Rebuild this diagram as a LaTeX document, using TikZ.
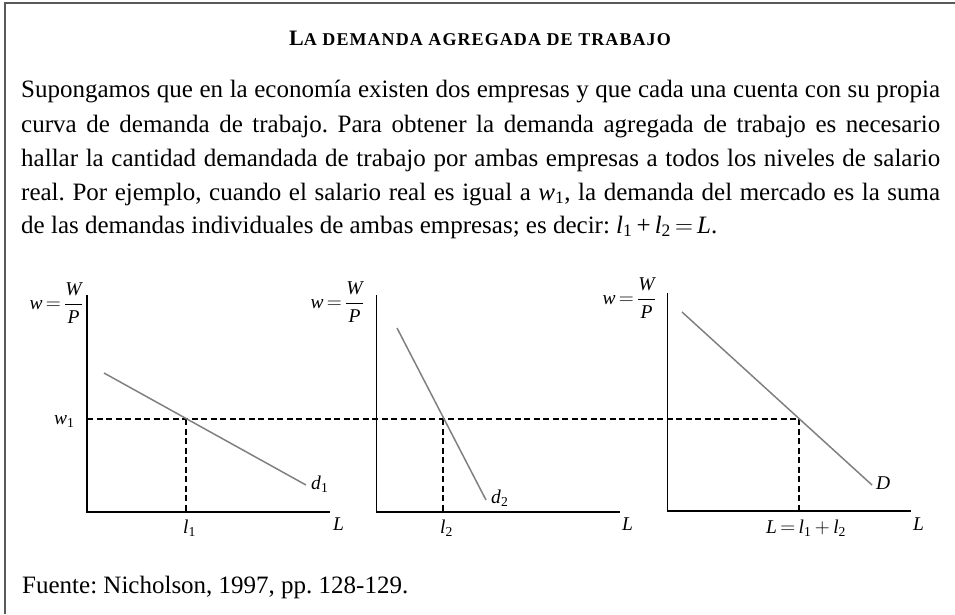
\documentclass[tikz,border=0pt]{standalone}
\usepackage{fontspec}
\setmainfont{Liberation Serif}
\newfontfamily\titlefont[LetterSpace=6]{Liberation Serif}
\newcommand\wlabel{\textit{w}\,$=$\,$\displaystyle\frac{\mbox{\itshape W}}{\mbox{\itshape P}}$}
\newcommand\sub[2]{\textit{#1}\textsubscript{#2}}
\frenchspacing
\tikzset{
  axisline/.style={line width=1.3pt, black},
  curveline/.style={line width=1.5pt, black!50},
  guide/.style={line width=1.1pt, black, dash pattern=on 6pt off 3.5pt},
  lab/.style={inner sep=0pt, font=\fontsize{19.5}{22}\selectfont},
  body/.style={inner sep=0pt, anchor=base west, font=\fontsize{25}{30}\selectfont},
  frameline/.style={line width=2pt, black!65}
}
\begin{document}
\begin{tikzpicture}[x=1pt,y=-1pt]
\useasboundingbox (0,0) rectangle (955,614);
% frame (top and left only)
\coordinate (fbl) at (5,614); \coordinate (ftl) at (5,3); \coordinate (ftr) at (955,3);
\draw[frameline] (fbl) -- (ftl) -- (ftr);
% title
\node[inner sep=0pt, anchor=base] (title) at (480,45)
  {\titlefont\bfseries{\fontsize{22}{24}\selectfont L}{\fontsize{18}{20}\selectfont A DEMANDA AGREGADA DE TRABAJO}};
% body
\node[body] (t1) at (21,97) {\makebox[919pt][s]{Supongamos que en la economía existen dos empresas y que cada una cuenta con su propia}};
\node[body] (t2) at (21,132) {\makebox[919pt][s]{curva de demanda de trabajo. Para obtener la demanda agregada de trabajo es necesario}};
\node[body] (t3) at (21,166) {\makebox[919pt][s]{hallar la cantidad demandada de trabajo por ambas empresas a todos los niveles de salario}};
\node[body] (t4) at (21,200) {\makebox[919pt][s]{real. Por ejemplo, cuando el salario real es igual a \sub{w}{1}, la demanda del mercado es la suma}};
\node[body] (t5) at (21,233) {de las demandas individuales de ambas empresas; es decir: \sub{l}{1}\,+\,\sub{l}{2}$\,=\,$\textit{L}.};
% footer
\node[body] (src) at (22,593) {Fuente: Nicholson, 1997, pp. 128-129.};
% graph 1
\coordinate (y1top) at (87,295); \coordinate (o1) at (87,512); \coordinate (x1end) at (330,512);
\draw[axisline] (y1top) -- (o1) -- (x1end);
% graph 2
\coordinate (y2top) at (376.5,295); \coordinate (o2) at (376.5,512); \coordinate (x2end) at (620,512);
\draw[axisline] (y2top) -- (o2) -- (x2end);
% graph 3
\coordinate (y3top) at (667.5,293); \coordinate (o3) at (667.5,511); \coordinate (x3end) at (911,511);
\draw[axisline] (y3top) -- (o3) -- (x3end);
% guides
\coordinate (hstart) at (87,419);
\coordinate (p1) at (186,419); \coordinate (b1) at (186,512);
\coordinate (p2) at (443,419); \coordinate (b2) at (443,512);
\coordinate (p3) at (799,419); \coordinate (b3) at (799,511);
\draw[guide] (hstart) -- (p3);
\draw[guide] (p1) -- (b1);
\draw[guide] (p2) -- (b2);
\draw[guide] (p3) -- (b3);
% demand curves
\coordinate (d1a) at (104,373); \coordinate (d1b) at (306,485);
\coordinate (d2a) at (397,328); \coordinate (d2b) at (486,500);
\coordinate (d3a) at (682,312); \coordinate (d3b) at (872,485);
\draw[curveline] (d1a) -- (d1b);
\draw[curveline] (d2a) -- (d2b);
\draw[curveline] (d3a) -- (d3b);
% labels
\node[lab, anchor=east] (wl1) at (83,303) {\wlabel};
\node[lab, anchor=east] (wl2) at (364,302) {\wlabel};
\node[lab, anchor=east] (wl3) at (656,298) {\wlabel};
\node[lab, anchor=base west] (w1) at (54,424) {\sub{w}{1}};
\node[lab, anchor=base west] (ld1) at (311,489) {\sub{d}{1}};
\node[lab, anchor=base west] (ld2) at (491,503) {\sub{d}{2}};
\node[lab, anchor=base west] (ld3) at (876,489) {\textit{D}};
\node[lab, anchor=base west] (L1) at (333,530) {\textit{L}};
\node[lab, anchor=base west] (L2) at (622,530) {\textit{L}};
\node[lab, anchor=base west] (L3) at (913,530) {\textit{L}};
\node[lab, anchor=base west] (l1) at (183,533) {\sub{l}{1}};
\node[lab, anchor=base west] (l2) at (440,533) {\sub{l}{2}};
\node[lab, anchor=base] (Lsum) at (806,533) {\textit{L}$\,=\,$\sub{l}{1}$\,+\,$\sub{l}{2}};
\end{tikzpicture}
\end{document}
